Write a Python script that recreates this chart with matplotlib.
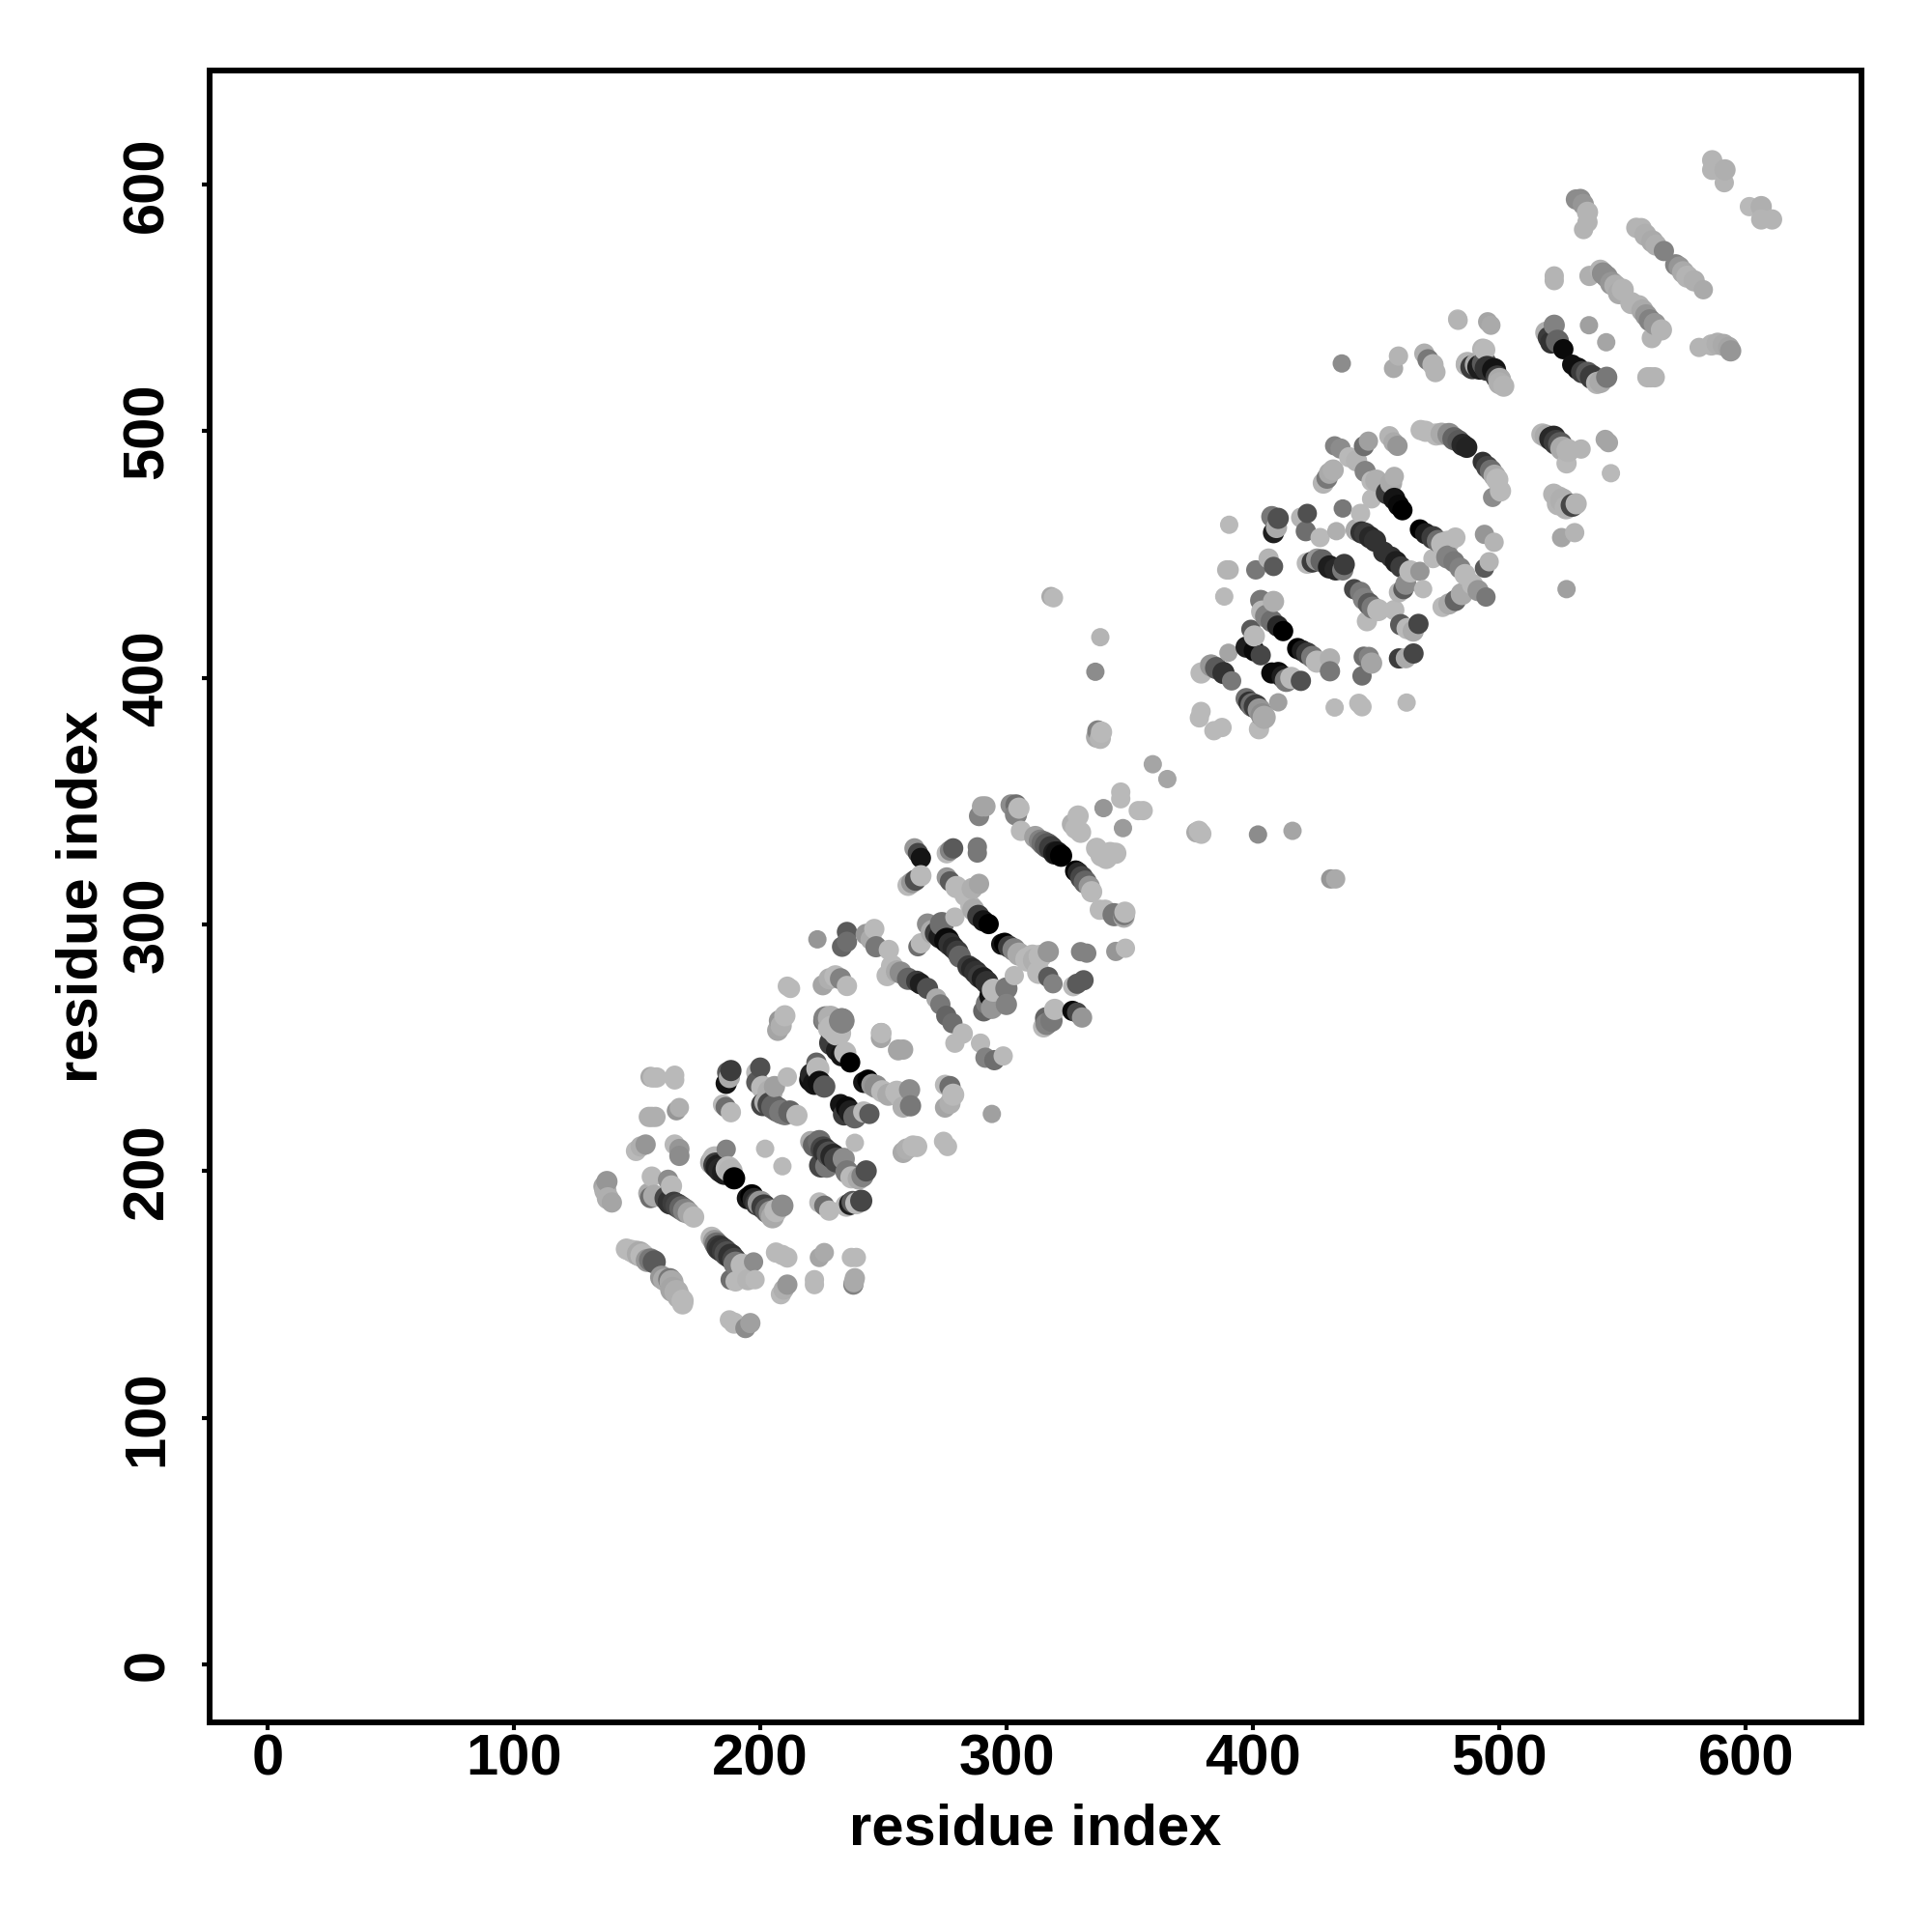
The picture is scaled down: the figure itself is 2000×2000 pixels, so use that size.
import matplotlib
matplotlib.use("Agg")
import matplotlib.pyplot as plt
from matplotlib.transforms import ScaledTranslation
import numpy as np

plt.rcParams['font.family'] = ['Liberation Sans', 'DejaVu Sans']

tick_values = [0, 100, 200, 300, 400, 500, 600]
axis_label = "residue index"

# (residue i, residue j, grey level 0-255)
cluster_a = [
 (137.8,195.8,150),(136.6,193.8,165),(137.2,192,175),(139.8,187.3,165),(138.2,189,175),
 (156,197.8,185),(155.5,189.3,110),(154.8,191,170),(157,190,170),(162.6,196.5,140),(164,194,185),
 (162,189,70),(163.5,187.5,50),(165,187,60),(166.5,186,70),(168,185,100),(169.5,184,130),(171,183,165),(173,181.4,185),
 (145.7,168.4,185),(147.6,167.7,185),(149.6,167,185),(151,166.5,170),(152.2,165.8,185),(154.2,163.8,150),(155.5,164,120),(157,163.2,90),
 (160,157,150),(161,156,170),(163.3,156,120),(164,155,170),(164.5,152,165),(166,151,175),(167,149,175),(168.5,147.5,185),(168.5,146.2,185),
 (180.3,173,185),(181.5,171.5,150),(182.3,170.3,110),(183.3,169,60),(184.2,168.4,50),(185.5,167.5,60),(186.5,166.5,80),(188,165.5,50),(189.5,164,70),(190,162.5,120),(192.7,161.9,185),
 (197.3,163.2,140),(197.9,156,185),(195,156,180),(190,155.3,185),(188,156,110),
 (206.4,167,185),(209,166,185),(211,165,185),(226,167,170),(224,165,165),(237,165,185),(239,165,185),
 (238.4,156.6,170),(237.8,154,130),(238,155,170),(222,156,185),(222,154,185),(211,154,150),(208.4,150.1,185),(209.5,152,175),
 (187.5,139.7,185),(189.4,138.4,185),(194,136.4,140),(196,138.4,160),
 (155.5,238.2,170),(156.5,238,185),(158,238,185),(165.3,238.9,185),(165.3,237,185),(154.8,222,175),(156,222,175),(157.5,222,175),
 (166,224.5,150),(167.2,225.8,175),(153.5,210.8,150),(149.6,208.2,185),(151.5,210,175),(165.3,210.8,185),(167.2,209,150),(167.2,206.2,140),
 (186.2,208.9,130),(181.6,205,185),(180.5,203.5,170),(182,202.5,60),(182.9,201.7,30),(184,200.5,40),(185.5,199.5,30),(187,201,185),(188,200,180),(189.4,197.1,0),
 (196.6,190,0),(195,189,20),(197.5,188.5,40),(199,187,60),(200,187,150),(201.5,185.5,60),(203,184,90),(204.5,183,150),(206.4,184,185),(205,181.5,170),(209,186,140),
 (202,209.1,185),(209,202,185),
 (188.1,240.8,60),(186.8,240,90),(186.2,235.6,20),(187.5,238,170),(184.9,227,185),(186,226,110),(188.1,223.9,185),
 (200,242,80),(198.6,240,185),(198.8,236,90),(201,234,185),(205.8,234.3,160),(204,232,175),
 (201,227,70),(202.5,228,175),(204,227,70),(205.5,226,100),(207,225,100),(208.5,224,120),(210,223.5,120),(212,224,100),(214.9,222.6,185),
 (211,238.2,185),
 (220.5,212,170),(222,210.5,100),(224,212,110),(225.5,209,70),(226.5,208,50),(228,207,80),(229.5,206,40),(231,204.5,70),(224.7,202.3,70),(227,202,120),(233.9,205,140),(238.4,211.5,185),
 (235.2,199.7,120),(237,197.5,185),(240,197,170),(243,200.1,80),(241.5,198,130),
 (241,188,70),(236.5,186.7,30),(235,186,185),(237.5,187.5,90),(239,187,185),(224,187.3,185),(226,186,110),(228,184,185),
 (258,207.6,170),(259.5,209,175),(262,210.2,185),(263.5,210,185),(274.4,212.1,185),(276,210,185),
 (294,223.2,160),(275,225.8,165),(277,227.5,175),(278.3,231,185),(277,234.3,110),(275,235,185),
 (261,226.5,120),(260.6,233,140),(255.4,232,185),(257.5,229.5,185),(258,226,175),
 (249.5,232.4,185),(252,231,170),(247,234.3,140),(245.5,235,150),(243.7,236.9,0),(242,236,20),
 (256,249.3,165),(258,249.3,165),(249,256,165),(249,254,165),
 (244.3,223.2,90),(242,224,185),(238.4,222,100),(235.2,225.8,10),(232.6,227,20),(234,223,60),(236.5,224,30),
 (226,234.3,90),(224,236,15),(222,235.6,20),(220.5,237,15),(223.4,241.5,185),(222.8,244,100),(221,239,40),
 (236.5,244.1,0),(233,247,20),(231,249,30),(234.5,248,185),(229,252,60),(233,261,130),(231,256,185),(226,261,110),(228.5,258,185),
]
cluster_b = [
 (377,337.4,170),(378,338,185),(379,336.8,185),
 (359.3,365,165),(365.2,359,165),
 (346.3,353.7,185),(346.3,351,185),(353.4,346.2,185),(355.4,346.2,185),(339.3,347.2,150),(347.2,339.1,155),
 (329,344,185),(330,337.4,185),(326.7,340.7,175),(328,339,185),(344.3,328.9,185),(336.5,330.9,185),(338.5,328,185),(340.4,327,185),(342,329,185),
 (322.1,327.9,0),(320.5,329,20),(319.5,329,30),(318,331,60),(316.5,332,90),(315,333,110),(313.5,334,130),(311.6,335.5,160),
 (305.8,338,185),(305,347.2,185),(301.8,348.5,140),(303.8,348.5,110),(303.8,344.6,130),
 (288.8,344,130),(290,347.9,165),(291.4,347.9,165),
 (328,321.7,0),(329,321,40),(330.5,319,70),(331.9,317.2,100),(333.5,315.5,150),(334.5,313.3,185),(337.8,306,185),(340,306,185),
 (343.6,304,120),(347.6,303,170),(347.6,304,120),(348,305,185),(348.2,290.4,185),(344.3,289.1,150),
 (332.5,288.4,130),(330,289,130),(328.6,276,90),(331.2,277.4,90),(327,275,185),(330.6,262.3,150),(326.7,265,10),(328.6,264.3,70),
 (319.5,265.6,185),(316.2,259.7,130),(318.2,261,120),(315,258.5,185),(316,262,100),
 (318.8,276,130),(316.9,278.7,90),(313,280.6,185),(316.9,289,150),(313.6,287.1,185),(311.5,285.5,175),
 (299.2,292.4,0),(298,292,20),(301,291,60),(303,289.8,130),(305,288,170),(308.4,285.8,185),(310.5,287,185),
 (292.7,300.2,0),(290.5,301.5,20),(288.5,303.5,60),(286.5,306,170),(285.5,307.5,185),(288.8,316.5,165),(286,314.6,175),(283.5,312,185),(279,303,185),
 (278.3,330.9,90),(275.7,328.9,185),(277,330,130),(288.1,331.5,120),(288.1,329,120),
 (265.2,327,20),(262.6,330.9,150),(264,329,70),(265.2,319.8,185),(260,315.9,185),(261.5,317,150),(263,318,80),
 (275.7,319.1,150),(277,317.5,90),(279.6,315.2,185),
 (264,291,110),(265.2,292.4,185),(267.9,300.2,140),(270,297,170),(271.5,296.5,60),(273,295,30),(273.7,300.2,110),(275.7,293.6,10),(277,292,50),(278.5,290.5,40),(280,289,60),(281,287,100),
 (284.5,283,60),(286,282,40),(287.5,280.6,50),(289,279,60),(290.5,278,30),(292,276.5,50),(294.6,273.4,185),(294,271,20),(299.9,274.1,120),(303.1,279.3,185),(299.9,267.6,130),
 (294,266.2,150),(290.7,265,100),(292,268,120),
 (298.6,246.7,185),(295,245,110),(291.4,246,130),(289.4,251.9,185),(279,251.9,185),(282.2,255.8,185),(278,260,110),(275.5,263,100),(273.1,267.6,120),(271.5,270,170),
 (267.9,274.1,80),(265,276,30),(263.5,277,60),(260,278,100),(257,280.5,140),(255.5,281,170),(253.5,283.2,185),(251.5,279.3,185),(252.2,289.7,185),
 (247,291,120),(246.3,298.2,185),(243,296,150),(245,294,170),
 (235.2,297,90),(235.2,293,110),(233.2,291,100),(223.2,294,150),
 (212.3,274.1,185),(211,275,185),(235.2,275.1,185),(232.6,278,130),(230.5,279,185),(225.4,275.4,165),(228,278,175),
 (210,263,185),(207.8,261,150),(207.1,257.1,165),(208.5,259,175),
 (233.2,261,130),(226.5,262,130),(231.8,256,185),(229,258,185),(228.5,262,175),(249.2,256,185),(256,249,165),
]
cluster_c = [
 (378.9,386.4,185),(378.2,383.8,185),(384.1,378.6,185),(387.4,379.9,185),(402.4,379.2,185),
 (410.2,390.1,160),(403.7,385,140),(399.8,389,110),(397.2,391.6,110),(398.5,390,50),(401.1,388.4,60),(402.5,387,150),(404.5,384,170),
 (433.1,388,185),(442.9,389.7,185),(444.2,388.3,185),(462.3,390,185),
 (444.2,400.8,110),(448.1,406,165),(444.9,408.6,110),(447,408.5,130),(459.2,407.9,60),(465.1,409.9,70),(462,408,170),
 (431.2,407.9,175),(431.2,402.7,120),(425.9,406.6,185),(419.4,398.8,80),(415.5,400,185),(413.5,399,120),(410.2,402,10),(407.6,402,10),(412,400.5,30),
 (403.1,409.2,70),(400.5,411,10),(397.2,412.5,30),(400.5,417,185),(399.1,419.7,90),(390,410.2,165),
 (391.3,398.8,120),(388,402,50),(385,404,90),(383,405,150),(378.9,402,185),(382.8,405,185),
 (412.2,419,0),(410,421,40),(407.6,423,110),(405.5,425,130),(403.7,426.9,185),(408.3,431,175),(403.1,431.4,120),
 (418.1,411.9,0),(420,411,30),(422,409.9,60),(424,408.5,120),
 (388.3,433,185),(389.3,443.8,180),(390.3,443.8,180),(390.3,462.1,185),
 (401.1,443.8,120),(406.3,448.4,180),(408.3,445.2,90),(408.3,458.9,30),(410.2,464.7,80),(407.6,465.4,120),(409.5,461,170),
 (422,466.7,80),(419.5,465,180),(421.4,459.5,110),(427.2,456.9,185),
 (422,446.5,185),(424,447,60),(426,448,150),(428,447.5,100),(431,445,30),(433.5,444,40),(436.4,443.8,120),(437,446,60),
 (433.8,459.5,175),(436.4,468.7,120),(443.6,466.7,185),(442,460,170),(444,459,50),(445.5,458.5,60),(447.5,457,40),(449.5,455.6,50),
 (441,436,70),(443.6,434.7,120),(445,432,130),(447,430,90),(448.5,428.5,120),(450.8,427.5,185),(446.2,423,185),(457.3,427.5,185),
 (459.9,421.6,90),(462.5,420,185),(465,419,170),(467.1,421.9,70),
 (453,451,50),(456,449,50),(458,447,30),(460,445,60),(463.8,443.2,185),(467.7,443.2,150),(469,436,185),(462,438,140),(459.2,434.7,180),(461,436,90),
 (454.5,475,60),(457.3,472.6,20),(459,470,10),(460.6,468,0),(448.1,472.6,185),(448.1,479.8,185),(457.3,481.7,175),(456,479,170),
 (467.7,460.2,0),(470,458.5,30),(473,456.9,60),(475,455.5,110),(476.9,454.3,185),(482.1,456.9,185),(479,455,185),
 (481.5,447.1,120),(479,449,130),(484,444.5,130),(486,441.9,185),(489,438,185),(491.3,435.4,150),(494.5,432.8,120),
 (484.7,434,170),(482.1,431.4,100),(479.5,430,170),(476.9,428.8,185),(473,448.4,185),
 (493.9,458.2,150),(497.8,455,180),(495.8,447.1,180),(493.9,444.5,90),
 (527.2,436,160),(525.2,456.9,165),(530.5,458.9,180),
 (531.1,470.6,180),(529.5,470,70),(522,474.5,180),(524,473,180),(525.5,472,175),(523.9,470.6,180),(527,469,180),
 (545.2,483,185),(544.2,495.4,165),(542.9,496.7,165),
 (517.4,498.7,180),(519,498,170),(521,497,40),(522,497.4,40),(523,495.5,60),(524.6,494.8,90),(525.5,493,170),(527.8,492.2,180),(533.1,492.8,180),(527.2,487,185),
 (468,500.5,185),(470,500,185),(474.3,498.7,185),(476.5,499,170),(479.5,498.7,140),(481.5,497,100),(483.4,496,90),(485,494.5,40),(486.7,493.5,35),
 (493.2,487.6,50),(495,485.5,70),(496.5,484,110),(498,482,170),(499.1,480.4,185),(500.4,475.8,185),(497.2,473.2,140),
 (433.1,494.1,130),(435.5,493,140),(446.8,496,160),(445,494,110),(458.6,494.1,150),(455.3,498,180),(457,495.5,170),
 (439,489.5,185),(442,488,180),(432.5,484.3,175),(428.5,479,180),(430,481,120),(431,483,170),(445.5,483.7,130),(450,480,175),
]
cluster_d = [
 (586.3,609.9,180),(586.3,606,180),(591.5,606,175),(591.2,600.8,180),
 (601.4,591.1,185),(606.2,591.1,175),(606.2,585.9,180),(610.6,585.9,180),
 (531,594,140),(532.8,594,140),(534,592,150),(535.7,588.8,180),(535.7,584.8,180),(534.1,581.8,180),
 (555.5,582.5,180),(557.5,582.2,180),(559.2,579.6,175),(562,577,170),(563.5,575.5,175),(566.7,573.1,130),
 (571.5,567.5,130),(572.9,566.6,150),(574.5,564.5,170),(576.2,562.7,180),(579,561,175),(582.7,557.4,170),
 (522.2,563,180),(522.2,561.1,180),
 (536.5,563,175),(540.9,565.3,180),(542,564,140),(543.5,562.7,140),(545.5,560,150),(547,559,175),(550,557.4,180),(548.5,556,170),
 (553.5,552,180),(556.6,550.9,180),(558,549,170),(559.5,547,150),(561,545,130),(563,543.5,150),(565.7,541.1,180),(561.8,537.8,180),
 (581,534,180),(586,535,180),(588.5,535.5,175),(591,535,170),(593.8,532.6,150),(593,534,165),
 (483.2,545,180),(495.2,544.4,165),(496.5,543,170),(493.2,533.3,180),(486.7,527,180),
 (489,526,60),(491,527,170),(492,526,30),(493.9,527.4,90),(495,525.5,50),(497.8,524.8,20),(499,522,60),(500,521,170),(501.7,518.3,180),(500,519.5,175),
 (519,540,175),(520,538,60),(521,536,50),(522.2,543,130),(523.5,536.5,100),(525.9,533.3,10),
 (536.3,543,160),(543.3,536.1,165),
 (529.5,527,15),(531.8,525.4,15),(533.5,524,60),(535.7,523.5,90),(537.5,522,60),(539.6,519.6,180),(541,520,170),(543.5,521.9,120),
 (560,521.9,180),(561.3,521.9,180),(563,521.9,180),
 (487,527.5,180),(436,527.5,140),(459,530.5,180),(457,525.5,170),(469.5,531.5,175),(471,529,120),(473,527,180),(474,524,180),
 (483,545.5,185),(494,533,185),
]
cluster_e = [
 (402,336.5,140),(416,338,165),(431.5,318.5,150),(433.5,318.5,170),
 (318,433,170),(319,432.5,185),(338,416.5,180),(336,402.5,140),
 (337,378.5,130),(338.5,378,185),(338,375.5,180),(336.5,376,170),
]

contacts = cluster_a + cluster_b + cluster_c + cluster_d + cluster_e
res_i = np.array([p[0] for p in contacts])
res_j = np.array([p[1] for p in contacts])
shade = np.array([p[2] for p in contacts]) / 255.0
order = np.argsort(res_i, kind="stable")

# Marker diameter grows where contacts crowd together: about 19 px isolated, 26 px in a dense strand.
dist = np.hypot(res_i[:, None] - res_i[None, :], res_j[:, None] - res_j[None, :])
crowd = np.clip((dist < 7).sum(axis=1) - 1, 0, 7)
diam_px = 19.0 + crowd
areas = (diam_px * 72 / 100) ** 2

fig = plt.figure(figsize=(20, 20), dpi=100, facecolor="white")
ax = fig.add_axes([216.8/2000, 1 - 1783/2000, (1927.3-216.8)/2000, (1783-72.7)/2000])
ax.scatter(res_i[order], res_j[order], s=areas[order], c=np.column_stack([shade[order]]*3),
           linewidths=0, zorder=2)
ax.set_xlim(-23.5, 647)
ax.set_ylim(-23.5, 646.4)
ax.set_xticks(tick_values)
ax.set_yticks(tick_values)
ax.set_xticklabels([str(t) for t in tick_values], fontsize=43, fontweight="bold")
ax.set_yticklabels([str(t) for t in tick_values], fontsize=43, fontweight="bold",
                   rotation=90, va="center")
shift_up = ScaledTranslation(0, 4.5/72, fig.dpi_scale_trans)
for lab in ax.get_yticklabels():
    lab.set_transform(lab.get_transform() + shift_up)
ax.tick_params(axis="both", direction="out", length=5.5, width=3)
ax.tick_params(axis="x", pad=3)
ax.tick_params(axis="y", pad=20.5)
for s in ax.spines.values():
    s.set_linewidth(4.3)
ax.set_xlabel(axis_label, fontsize=43, fontweight="bold", labelpad=12.3)
ax.set_ylabel(axis_label, fontsize=43, fontweight="bold", labelpad=9.3)
fig.savefig("out.png", dpi=100, facecolor="white")
